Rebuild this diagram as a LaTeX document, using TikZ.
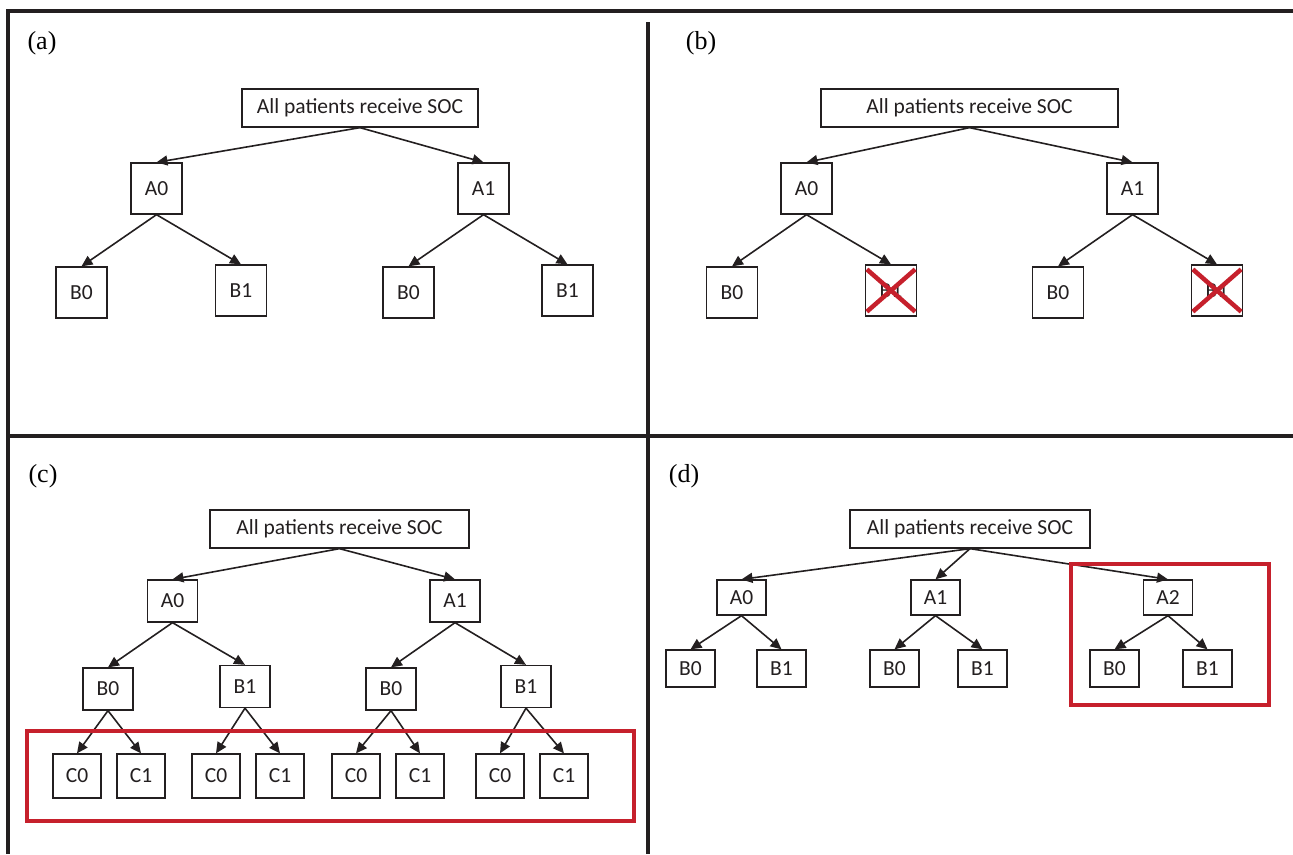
\documentclass[tikz,border=0pt]{standalone}
\usepackage{fontspec}
\setmainfont{Liberation Serif}
\newfontfamily\boxfont{Carlito}
\usetikzlibrary{arrows.meta}
\definecolor{ink}{RGB}{35,31,32}
\definecolor{xred}{RGB}{198,32,44}
\begin{document}
\begin{tikzpicture}[x=1pt,y=-1pt,
  box/.style={draw=ink, line width=1.3pt, fill=white, inner sep=0pt, font=\boxfont\fontsize{21.5}{23}\selectfont, text=ink},
  root/.style={box, minimum height=38pt},
  big/.style={box, minimum width=51pt, minimum height=51pt},
  mid/.style={box, minimum width=50pt, minimum height=42pt},
  cbox/.style={box, minimum width=48pt, minimum height=44pt},
  dA/.style={box, minimum width=49pt, minimum height=35pt},
  dB/.style={box, minimum width=49pt, minimum height=37pt},
  arr/.style={draw=ink, line width=1.6pt, -{Triangle[length=11pt,width=10pt]}},
  frame/.style={draw=ink, line width=3.2pt},
  redbox/.style={draw=xred, line width=4pt},
  cross/.style={draw=xred, line width=4.5pt},
  lab/.style={font=\fontsize{26}{28}\selectfont, text=black}
]
\useasboundingbox (0,0) rectangle (1293,854);
% frame
\coordinate (f1) at (8,11);
\coordinate (f2) at (1293,11);
\coordinate (f3) at (8,854);
\coordinate (f4) at (648,22);
\coordinate (f5) at (648,854);
\coordinate (f6) at (8,436);
\coordinate (f7) at (1293,436);
\draw[frame] (f2) -- (f1) -- (f3);
\draw[frame] (f4) -- (f5);
\draw[frame] (f6) -- (f7);
% labels
\node[lab] (la) at (42,43) {(a)};
\node[lab] (lb) at (701,43) {(b)};
\node[lab] (lc) at (43,476) {(c)};
\node[lab] (ld) at (684,476) {(d)};

% ---------- panel (a)
\node[root, minimum width=236pt] (ar) at (360,108) {All patients receive SOC};
\node[big] (aA0) at (156.5,188.5) {A0};
\node[big] (aA1) at (483.5,188.5) {A1};
\node[big] (aB0) at (81.5,292.5) {B0};
\node[big] (aB1) at (241,290.5) {B1};
\node[big] (aB2) at (408.5,292.5) {B0};
\node[big] (aB3) at (567.5,290.5) {B1};
\draw[arr] (ar.south) -- (aA0.north);
\draw[arr] (ar.south) -- (aA1.north);
\draw[arr] (aA0.south) -- (aB0.north);
\draw[arr] (aA0.south) -- (aB1.north);
\draw[arr] (aA1.south) -- (aB2.north);
\draw[arr] (aA1.south) -- (aB3.north);

% ---------- panel (b)
\node[root, minimum width=297pt] (br) at (969.5,108) {All patients receive SOC};
\node[big] (bA0) at (806.5,188.5) {A0};
\node[big] (bA1) at (1132.5,188.5) {A1};
\node[big] (bB0) at (732,292.5) {B0};
\node[big] (bB1) at (891,290.5) {B1};
\node[big] (bB2) at (1058,292.5) {B0};
\node[big] (bB3) at (1217,290.5) {B1};
\draw[arr] (br.south) -- (bA0.north);
\draw[arr] (br.south) -- (bA1.north);
\draw[arr] (bA0.south) -- (bB0.north);
\draw[arr] (bA0.south) -- (bB1.north);
\draw[arr] (bA1.south) -- (bB2.north);
\draw[arr] (bA1.south) -- (bB3.north);
\foreach \n in {bB1,bB3}{
  \draw[cross] ([shift={(2,5)}]\n.north west) -- ([shift={(-2,-5)}]\n.south east);
  \draw[cross] ([shift={(-2,5)}]\n.north east) -- ([shift={(2,-5)}]\n.south west);
}

% ---------- panel (c)
\node[root, minimum width=259pt] (cr) at (339.5,529) {All patients receive SOC};
\node[mid] (cA0) at (172.5,601) {A0};
\node[mid] (cA1) at (455,601) {A1};
\node[mid] (cB0) at (108,689) {B0};
\node[mid] (cB1) at (245,686.5) {B1};
\node[mid] (cB2) at (391,689) {B0};
\node[mid] (cB3) at (526,686.5) {B1};
\node[cbox] (cC0) at (77,776) {C0};
\node[cbox] (cC1) at (141,776) {C1};
\node[cbox] (cC2) at (216,776) {C0};
\node[cbox] (cC3) at (280,776) {C1};
\node[cbox] (cC4) at (356,776) {C0};
\node[cbox] (cC5) at (420,776) {C1};
\node[cbox] (cC6) at (500,776) {C0};
\node[cbox] (cC7) at (564,776) {C1};
\draw[arr] (cr.south) -- (cA0.north);
\draw[arr] (cr.south) -- (cA1.north);
\draw[arr] (cA0.south) -- (cB0.north);
\draw[arr] (cA0.south) -- (cB1.north);
\draw[arr] (cA1.south) -- (cB2.north);
\draw[arr] (cA1.south) -- (cB3.north);
\draw[arr] (cB0.south) -- (cC0.north);
\draw[arr] (cB0.south) -- (cC1.north);
\draw[arr] (cB1.south) -- (cC2.north);
\draw[arr] (cB1.south) -- (cC3.north);
\draw[arr] (cB2.south) -- (cC4.north);
\draw[arr] (cB2.south) -- (cC5.north);
\draw[arr] (cB3.south) -- (cC6.north);
\draw[arr] (cB3.south) -- (cC7.north);
\coordinate (cR1) at (27,731);
\coordinate (cR2) at (634,821);
\draw[redbox] (cR1) rectangle (cR2);

% ---------- panel (d)
\node[root, minimum width=240pt] (dr) at (970,529) {All patients receive SOC};
\node[dA] (dA0) at (741.5,597.5) {A0};
\node[dA] (dA1) at (935.5,597.5) {A1};
\node[dA] (dA2) at (1168,597.5) {A2};
\node[dB] (dB0) at (690.5,668.5) {B0};
\node[dB] (dB1) at (781.5,668.5) {B1};
\node[dB] (dB2) at (894.5,668.5) {B0};
\node[dB] (dB3) at (982.5,668.5) {B1};
\node[dB] (dB4) at (1114.5,668.5) {B0};
\node[dB] (dB5) at (1207.5,668.5) {B1};
\draw[arr] (dr.south) -- (dA0.north);
\draw[arr] (dr.south) -- (dA1.north);
\draw[arr] (dr.south) -- (dA2.north);
\draw[arr] (dA0.south) -- (dB0.north);
\draw[arr] (dA0.south) -- (dB1.north);
\draw[arr] (dA1.south) -- (dB2.north);
\draw[arr] (dA1.south) -- (dB3.north);
\draw[arr] (dA2.south) -- (dB4.north);
\draw[arr] (dA2.south) -- (dB5.north);
\coordinate (dR1) at (1071,564);
\coordinate (dR2) at (1269,705);
\draw[redbox] (dR1) rectangle (dR2);
\end{tikzpicture}
\end{document}
